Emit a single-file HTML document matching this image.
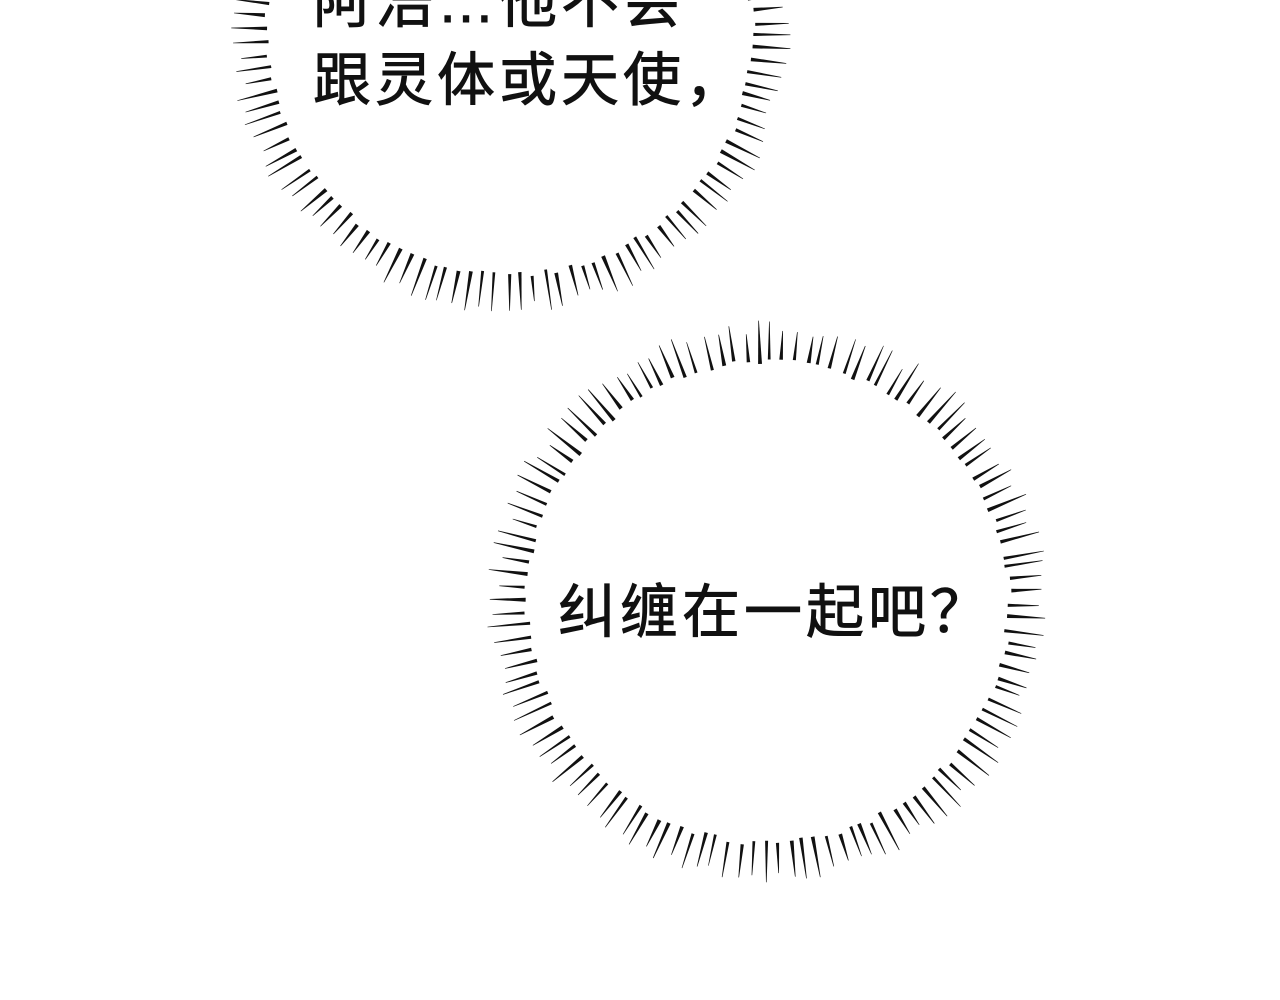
<!DOCTYPE html>
<html><head><meta charset="utf-8">
<style>
html,body{margin:0;padding:0;background:#fff;width:1280px;height:1000px;overflow:hidden}
svg{display:block}
text{font-family:"Liberation Sans","Noto Sans CJK SC",sans-serif;font-size:58px;fill:#111;stroke:#111;stroke-width:0.9}
</style></head>
<body>
<svg id="s" width="1280" height="1000" viewBox="0 0 1280 1000" xmlns="http://www.w3.org/2000/svg">
<g id="b"></g>
<text x="313" y="22" letter-spacing="4">阿浩…他不会</text>
<text x="313" y="100" letter-spacing="4">跟灵体或天使，</text>
<text x="558" y="632" letter-spacing="4">纠缠在一起吧？</text>
</svg>
<script>
(function(){
 var g=document.getElementById('b'),seed=7;
 function rnd(){seed=(seed*9301+49297)%233280;return seed/233280;}
 function burst(cx,cy,ri,ro,n){
  var s='';
  for(var i=0;i<n;i++){
   var a=(i+rnd()*0.4)/n*Math.PI*2;
   var r1=ri+rnd()*6, r2=ro-rnd()*14;
   var c=Math.cos(a),sn=Math.sin(a);
   var w=1.4+rnd()*0.6;
   var px=-sn,py=c;
   var x1=cx+c*r1,y1=cy+sn*r1,x2=cx+c*r2,y2=cy+sn*r2;
   s+='<polygon points="'+(x1+px*w).toFixed(1)+','+(y1+py*w).toFixed(1)+' '+(x1-px*w).toFixed(1)+','+(y1-py*w).toFixed(1)+' '+(x2-px*0.3).toFixed(1)+','+(y2-py*0.3).toFixed(1)+' '+(x2+px*0.3).toFixed(1)+','+(y2+py*0.3).toFixed(1)+'" fill="#111"/>';
  }
  return s;
 }
 g.innerHTML=burst(510,32,240,282,124)+burst(768,602,238,282,124);
})();
</script>
</body></html>
